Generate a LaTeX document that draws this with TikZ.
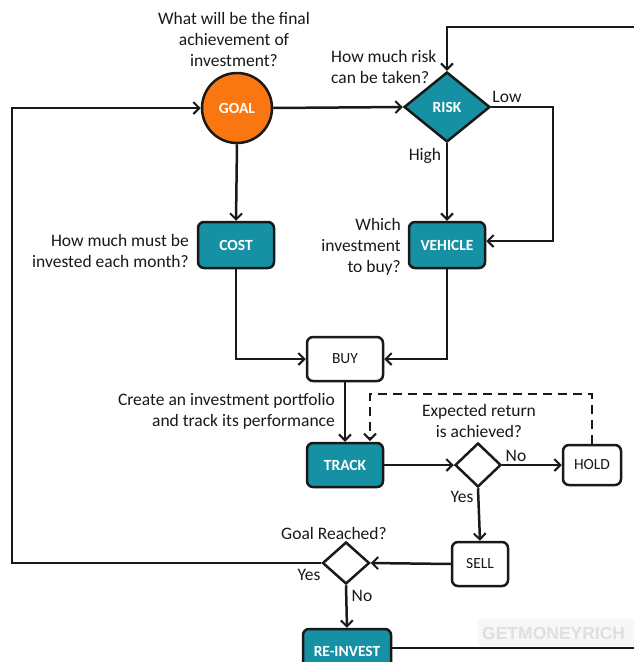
\documentclass[tikz,border=0pt]{standalone}
\usepackage{fontspec}
\setmainfont{Carlito}
\newfontfamily\wmfont{Liberation Sans}
\usetikzlibrary{shapes.geometric,arrows.meta}
\definecolor{teal1}{RGB}{22,145,163}
\definecolor{orange1}{RGB}{250,118,16}
\definecolor{txt}{RGB}{25,25,25}
\tikzset{
  conn/.style={line width=2.5pt, draw=txt, -{Straight Barb[length=6pt,width=12pt,line width=2pt]}},
  plain/.style={line width=2.5pt, draw=txt},
  tealbox/.style={draw=txt, line width=2.5pt, fill=teal1, rounded corners=6pt, minimum width=76pt, minimum height=46pt, text=white, font=\fontsize{15.5}{17}\selectfont\bfseries, inner sep=0pt},
  whitebox/.style={draw=txt, line width=2.5pt, fill=white, rounded corners=6pt, minimum width=76pt, minimum height=46pt, text=txt, font=\fontsize{15.5}{17}\selectfont, inner sep=0pt},
  q/.style={text=txt, font=\fontsize{17.5}{21}\selectfont, inner sep=0pt},
  lab/.style={text=txt, font=\fontsize{17.5}{20}\selectfont, inner sep=0pt},
}
\begin{document}
\begin{tikzpicture}[x=1pt,y=-1pt]
\useasboundingbox (0,0) rectangle (634,662);
\fill[white] (0,0) rectangle (634,662);
% nodes
\node[circle, draw=txt, line width=2.5pt, fill=orange1, minimum size=70pt, inner sep=0pt, text=white, font=\fontsize{15.5}{17}\selectfont\bfseries] (goal) at (237,108) {GOAL};
\node[diamond, draw=txt, line width=2.5pt, fill=teal1, minimum width=86pt, minimum height=70pt, inner sep=0pt, text=white, font=\fontsize{15.5}{17}\selectfont\bfseries] (risk) at (447,107) {RISK};
\node[tealbox] (cost) at (236,245) {COST};
\node[tealbox] (vehicle) at (447,245) {VEHICLE};
\node[whitebox, minimum height=44pt] (buy) at (345,359) {BUY};
\node[tealbox, minimum height=44pt] (track) at (345,465) {TRACK};
\node[diamond, draw=txt, line width=2.5pt, fill=white, minimum width=46pt, minimum height=44pt, inner sep=0pt] (exp) at (478,465) {};
\node[whitebox, minimum width=58pt, minimum height=40pt] (hold) at (592,465) {HOLD};
\node[whitebox, minimum width=56pt, minimum height=44pt] (sell) at (480,564) {SELL};
\node[diamond, draw=txt, line width=2.5pt, fill=white, minimum width=47pt, minimum height=42pt, inner sep=0pt] (gr) at (346,563) {};
\node[tealbox, minimum width=88pt, minimum height=44pt] (reinv) at (347,651) {RE-INVEST};
% watermark
\fill[gray!6] (478,619) rectangle (634,646);
\node[text=gray!25, font=\wmfont\fontsize{17.5}{20}\selectfont\bfseries, inner sep=0pt, anchor=west] (wm) at (482,633) {GETMONEYRICH};
% coordinates
\coordinate (topR) at (634,27);
\coordinate (topL) at (447,27);
\coordinate (lowA) at (553,107);
\coordinate (lowB) at (553,241);
\coordinate (costB) at (236,359);
\coordinate (vehB) at (447,359);
\coordinate (dA) at (592,394);
\coordinate (dB) at (370,394);
\coordinate (dC) at (370,441);
\coordinate (loopA) at (12,563);
\coordinate (loopB) at (12,108);
\coordinate (reR) at (634,648);
% connectors
\draw[conn] (topR) -- (topL) -- (risk.north);
\draw[conn] (goal.east) -- (risk.west);
\draw[conn] (goal.south) -- (cost.north);
\draw[conn] (risk.south) -- (vehicle.north);
\draw[conn] (risk.east) -- (lowA) -- (lowB) -- (vehicle.east |- lowB);
\draw[conn] (cost.south) -- (costB) -- (buy.west);
\draw[conn] (vehicle.south) -- (vehB) -- (buy.east);
\draw[conn] (buy.south) -- (track.north);
\draw[conn] (track.east) -- (exp.west);
\draw[conn] (exp.east) -- (hold.west);
\draw[conn] (exp.south) -- (sell.north);
\draw[conn] (sell.west) -- (gr.east);
\draw[conn] (gr.south) -- (reinv.north);
\draw[conn] (gr.west) -- (loopA) -- (loopB) -- (goal.west);
\draw[conn, dashed, dash pattern=on 9pt off 6pt] (hold.north) -- (dA) -- (dB) -- (dC);
\draw[plain] (reinv.east |- reR) -- (reR);
% texts
\node[q, align=center] (t1) at (234,39) {What will be the final\\achievement of\\investment?};
\node[q, align=left, anchor=west] (t2) at (331,67) {How much risk\\can be taken?};
\node[lab] (low) at (507,97) {Low};
\node[lab] (high) at (425,156) {High};
\node[q, align=right, anchor=east] (t3) at (189,251) {How much must be\\invested each month?};
\node[q, align=right, anchor=east] (t4) at (401,247) {Which\\investment\\to buy?};
\node[q, align=right, anchor=east] (t5) at (335,411) {Create an investment portfolio\\and track its performance};
\node[q, align=center] (t6) at (479,421) {Expected return\\is achieved?};
\node[lab] (no1) at (516,456) {No};
\node[lab] (yes1) at (462,497) {Yes};
\node[lab] (t7) at (334,533) {Goal Reached?};
\node[lab] (yes2) at (309,575) {Yes};
\node[lab] (no2) at (362,596) {No};
\end{tikzpicture}
\end{document}
